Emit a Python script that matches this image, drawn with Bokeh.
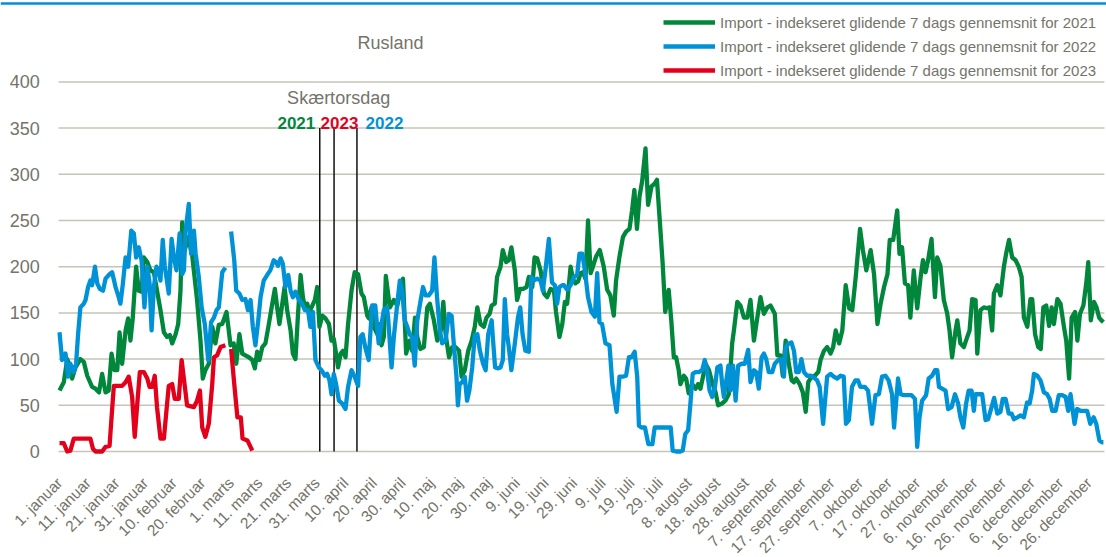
import math
from bokeh.plotting import figure
from bokeh.models import Label, Legend, LegendItem
from bokeh.core.properties import value
from bokeh.embed import file_html
from bokeh.resources import INLINE

NAN = float("nan")

# ---- data (category = day number on a leap-year axis, 1..366) ----
days_2021 = [1.0, 2.5, 3.7, 4.5, 5.4, 6.6, 8.3, 9.5, 10.7, 12.4, 13.6, 14.8, 15.9, 17.1, 18.2, 19.2, 20.2, 21.2, 22.0, 22.9,
             24.1, 25.0, 25.8, 26.6, 27.8, 28.7, 29.7, 30.5, 31.7, 32.8, 34.0, 35.1, 36.3, 37.5, 38.6, 39.6, 40.4, 41.6, 42.5, 43.3,
             43.9, 44.8, 46.0, 47.4, 49.1, 50.3, 51.1, 52.0, 53.2, 54.4, 55.5, 56.7, 57.9, 59.4, 60.8, 61.9, 62.8, 63.9, 64.9, 66.0,
             67.2, 68.4, 69.3, 70.1, 70.9, 71.9, 73.0, 74.2, 75.4, 76.3, 77.1, 77.9, 78.9, 79.7, 80.6, 81.8, 82.6, 83.5, 84.4, 85.3,
             86.1, 87.0, 87.6, 88.4, 89.4, 90.3, 91.1, 91.9, 92.9, 94.0, 95.2, 96.1, 96.9, 97.7, 98.4, 99.3, 100.1, 101.0, 101.9, 103.1,
             104.2, 105.4, 106.6, 107.4, 108.6, 109.2, 110.1, 110.9, 112.1, 112.7, 113.6, 114.4, 115.1, 116.5, 117.9, 119.1, 120.2, 121.1, 122.2, 123.4,
             124.3, 125.3, 126.1, 127.2, 128.4, 129.6, 130.5, 131.9, 133.1, 134.3, 135.2, 136.0, 137.2, 138.3, 139.5, 140.7, 141.6, 142.7, 143.9, 145.1,
             146.2, 147.1, 148.2, 149.4, 150.3, 151.4, 152.1, 153.2, 154.0, 155.2, 156.0, 157.2, 158.1, 159.0, 160.2, 161.0, 162.0, 163.1, 164.3, 165.1,
             166.3, 167.1, 168.0, 169.2, 170.4, 171.5, 172.7, 173.9, 174.6, 175.8, 176.8, 177.7, 178.5, 179.7, 180.5, 181.4, 182.3, 183.2, 184.0, 184.9,
             185.8, 186.7, 187.5, 188.6, 189.9, 191.3, 192.5, 193.6, 194.8, 195.6, 196.8, 198.0, 199.1, 200.3, 201.2, 202.0, 202.9, 203.8, 204.7, 205.9,
             206.8, 208.0, 209.1, 209.9, 211.1, 211.9, 212.8, 214.0, 214.9, 215.8, 216.6, 217.5, 218.1, 219.3, 220.1, 221.0, 222.2, 223.4, 224.3, 225.1,
             226.0, 226.9, 228.1, 229.2, 230.4, 231.3, 232.7, 233.8, 235.0, 236.2, 236.8, 238.0, 239.1, 240.3, 241.5, 242.6, 243.8, 245.0, 246.1, 247.3,
             248.5, 249.6, 251.1, 252.0, 253.1, 253.9, 254.9, 256.0, 257.0, 257.8, 258.6, 259.8, 260.9, 261.9, 262.8, 264.0, 265.1, 266.3, 267.1, 268.3,
             269.4, 270.6, 271.5, 272.4, 273.6, 274.7, 275.9, 277.1, 278.2, 279.4, 280.9, 281.9, 283.1, 284.6, 285.8, 287.0, 288.1, 289.3, 290.5, 291.3,
             292.5, 293.9, 294.7, 295.6, 296.6, 297.7, 298.5, 299.7, 300.9, 302.1, 302.9, 303.8, 304.7, 305.9, 307.1, 307.9, 309.0, 310.2, 311.4, 312.2,
             313.1, 314.3, 314.9, 316.0, 317.2, 318.4, 319.2, 320.1, 321.3, 321.9, 323.0, 324.2, 325.3, 326.2, 327.1, 327.7, 328.9, 330.0, 331.2, 332.1,
             333.0, 334.1, 335.3, 336.4, 337.4, 338.2, 339.4, 340.5, 341.1, 342.1, 343.2, 344.1, 345.0, 346.0, 347.0, 347.9, 348.7, 349.9, 351.0, 352.2,
             353.0, 354.0, 354.9, 356.1, 356.9, 357.8, 359.0, 360.0, 360.7, 361.6, 362.7, 363.6, 364.5, 365.3, 366.0]
vals_2021 = [66, 75, 100, 93, 79, 91, 100, 97, 82, 70, 68, 64, 84, 64, 66, 106, 88, 88, 129, 95,
             131, 144, 120, 144, 200, 174, 173, 210, 205, 196, 194, 174, 153, 129, 124, 126, 117, 127, 138, 174,
             248, 218, 232, 212, 164, 120, 79, 88, 95, 135, 117, 137, 138, 151, 115, 117, 95, 127, 106, 104,
             102, 99, 90, 108, 99, 113, 117, 138, 160, 176, 156, 138, 160, 178, 153, 131, 106, 100, 149, 191,
             167, 153, 160, 151, 158, 164, 178, 135, 147, 144, 138, 120, 122, 106, 91, 106, 109, 102, 138, 174,
             194, 192, 171, 167, 147, 144, 156, 135, 127, 138, 115, 124, 190, 156, 164, 158, 174, 187, 106, 120,
             109, 145, 124, 111, 113, 156, 160, 142, 120, 131, 162, 127, 102, 113, 113, 109, 81, 88, 109, 120,
             135, 156, 138, 135, 145, 149, 158, 160, 189, 200, 218, 205, 207, 221, 196, 164, 176, 176, 178, 189,
             178, 210, 209, 196, 171, 167, 176, 174, 151, 124, 138, 162, 160, 200, 187, 182, 184, 193, 194, 187,
             250, 193, 200, 211, 218, 200, 175, 169, 147, 185, 211, 232, 238, 241, 261, 283, 241, 276, 292, 328,
             267, 287, 290, 294, 240, 203, 151, 175, 142, 102, 102, 88, 73, 82, 79, 63, 73, 68, 73, 68,
             81, 95, 88, 75, 64, 50, 52, 55, 62, 117, 131, 162, 158, 145, 145, 164, 120, 145, 167, 149,
             156, 158, 149, 104, 104, 82, 120, 95, 77, 75, 79, 73, 64, 43, 75, 81, 82, 86, 99, 109,
             113, 106, 113, 131, 117, 131, 180, 155, 153, 189, 241, 218, 196, 218, 192, 138, 160, 178, 192, 229,
             229, 261, 214, 221, 182, 180, 145, 196, 155, 189, 207, 194, 207, 230, 167, 210, 201, 164, 149, 131,
             102, 131, 142, 117, 113, 124, 131, 165, 164, 106, 153, 156, 155, 156, 131, 171, 180, 169, 200, 216,
             229, 210, 207, 200, 189, 145, 135, 165, 165, 127, 113, 111, 156, 158, 136, 156, 138, 165, 160, 135,
             120, 79, 145, 151, 120, 149, 158, 182, 205, 142, 162, 156, 145, 142, 140]

days_2022 = [1.0, 1.9, 3.1, 4.0, 4.8, 6.0, 6.8, 7.5, 8.3, 9.5, 10.1, 11.0, 11.8, 12.4, 13.4, 14.2, 15.1, 16.2, 17.1, 18.2,
             19.4, 20.6, 21.7, 22.3, 23.1, 24.1, 25.0, 26.1, 27.0, 27.8, 28.7, 29.7, 30.7, 31.7, 32.5, 33.2, 34.0, 34.9, 35.7, 36.3,
             37.1, 37.8, 39.2, 40.2, 41.0, 41.9, 43.0, 43.9, 44.5, 45.1, 46.2, 47.0, 48.0, 48.6, 49.7, 50.7, 51.8, 53.0, 54.0, 55.0,
             55.9, 56.7, 57.9, 59.0, 60.0,
             61.0, 62.1, 62.8, 63.9, 64.9, 66.0, 66.9, 67.8, 68.6, 69.5, 70.5, 71.3, 72.4, 73.6, 74.7, 75.9, 76.7, 77.4, 78.3, 79.1,
             80.0, 81.0, 81.8, 82.6, 83.5, 84.7, 85.8, 86.8, 87.9, 88.7, 89.6, 90.5, 91.7, 92.6, 93.8, 94.6, 95.4, 96.1, 96.9, 97.7,
             98.7, 99.8, 101.0, 101.9, 103.1, 104.2, 105.4, 106.2, 107.0, 107.9, 109.1, 110.3, 111.4, 112.6, 113.6, 114.4, 115.5, 115.9, 117.1, 117.9,
             119.1, 120.0, 120.8, 121.7, 122.6, 123.4, 124.3, 125.2, 126.1, 127.3, 128.1, 129.0, 130.1, 131.3, 132.1, 133.0, 134.0, 134.8, 136.0, 137.1,
             138.1, 138.9, 139.8, 140.3, 140.9, 141.8, 142.7, 143.5, 144.3, 145.3, 146.2, 147.1, 148.0, 149.1, 150.0, 150.9, 152.1, 152.6, 153.3, 154.4,
             155.2, 156.0, 156.7, 157.5, 158.1, 159.0, 160.2, 161.3, 162.1, 162.9, 163.9, 165.1, 166.0, 166.8, 168.0, 169.2, 170.0, 170.9, 172.1, 173.2,
             174.2, 175.0, 175.8, 176.8, 177.4, 178.5, 179.7, 180.9, 182.0, 182.8, 183.8, 184.7, 185.8, 187.0, 188.2, 189.0, 189.8, 190.7, 191.9, 193.3,
             194.3, 195.8, 196.8, 198.0, 199.1, 200.1, 201.0, 202.1, 203.0, 203.6, 204.5, 205.7, 206.9, 208.3, 209.1, 210.6, 212.3, 214.7, 215.4, 216.6,
             218.1, 218.9, 219.8, 220.8, 221.6, 222.4, 223.4, 224.5, 225.7, 226.6, 227.4, 228.3, 229.2, 230.2, 231.0, 232.1, 232.7, 233.3, 234.9, 235.6,
             236.5, 237.4, 238.3, 239.5, 240.6, 241.8, 242.6, 243.8, 244.6, 245.5, 246.5, 247.3, 248.1, 249.0, 250.2, 251.1, 252.3, 253.5, 254.3, 254.9,
             256.0, 256.9, 257.8, 258.6, 259.5, 260.4, 261.3, 262.4, 263.6, 264.8, 265.9, 266.8, 268.0, 269.4, 270.6, 271.7, 272.9, 274.1, 275.2, 276.0,
             277.0, 278.1, 279.3, 280.2, 281.0, 282.6, 283.7, 285.1, 286.3, 287.5, 288.6, 289.8, 290.9, 292.1, 292.8, 294.2, 295.1, 296.2, 297.4, 298.9,
             300.1, 300.9, 301.7, 302.6, 304.0, 304.9, 306.1, 307.1, 307.9, 308.5, 309.6, 310.8, 311.7, 312.9, 314.1, 315.2, 316.0, 317.0, 318.0, 318.9,
             319.9, 320.7, 321.3, 322.4, 323.6, 324.8, 325.7, 326.9, 327.8, 328.9, 330.0, 330.8, 331.8, 332.9, 333.9, 334.7, 335.9, 337.0, 338.2, 339.3,
             340.2, 341.1, 341.7, 342.9, 344.0, 345.2, 346.3, 347.2, 348.1, 349.3, 350.4, 351.6, 352.8, 353.7, 354.5, 355.3, 355.9, 356.8, 358.0, 359.1,
             360.3, 361.4, 362.6, 363.5, 364.6, 365.5, 366.0]
vals_2022 = [129, 99, 106, 81, 95, 86, 95, 127, 156, 160, 164, 178, 185, 180, 200, 182, 176, 174, 187, 191,
             194, 178, 167, 160, 180, 210, 200, 239, 236, 210, 221, 207, 156, 200, 182, 131, 178, 200, 196, 185,
             229, 201, 171, 230, 210, 196, 236, 192, 196, 239, 268, 214, 239, 214, 189, 156, 138, 99, 140, 145,
             153, 156, 194, 199, NAN,
             238, 207, 174, 171, 164, 165, 153, 164, 135, 115, 142, 167, 185, 191, 196, 207, 205, 201, 209, 203,
             178, 191, 174, 167, 173, 164, 160, 153, 153, 135, 151, 99, 91, 88, 82, 84, 77, 62, 84, 73,
             55, 52, 46, 70, 88, 81, 71, 124, 127, 113, 99, 158, 158, 117, 138, 153, 156, 145, 91, 124,
             160, 185, 174, 142, 135, 127, 124, 93, 142, 164, 178, 169, 169, 174, 210, 167, 131, 117, 120, 149,
             147, 115, 81, 50, 73, 75, 81, 55, 66, 91, 126, 127, 109, 95, 88, 127, 142, 120, 91, 90,
             91, 99, 165, 127, 113, 88, 117, 145, 156, 127, 109, 108, 189, 185, 187, 185, 174, 196, 230, 183,
             180, 160, 178, 180, 180, 175, 180, 189, 191, 214, 214, 196, 167, 151, 146, 193, 140, 138, 117, 115,
             73, 43, 81, 81, 82, 102, 102, 108, 81, 28, 26, 26, 8, 8, 26, 26, 26, 26, 1, 0,
             0, 1, 19, 23, 52, 84, 86, 86, 88, 99, 88, 66, 59, 70, 91, 93, 73, 59, 93, 66,
             93, 55, 93, 95, 95, 110, 75, 88, 86, 68, 102, 106, 100, 86, 86, 95, 99, 100, 81, 113,
             117, 118, 109, 86, 86, 100, 86, 82, 82, 80, 77, 70, 30, 81, 84, 81, 79, 82, 81, 30,
             34, 70, 77, 77, 70, 70, 66, 30, 61, 62, 81, 82, 77, 62, 26, 79, 62, 61, 61, 61,
             57, 5, 37, 55, 61, 79, 82, 88, 88, 70, 68, 66, 46, 48, 62, 52, 37, 26, 52, 66,
             66, 44, 62, 62, 62, 34, 35, 48, 58, 41, 43, 57, 57, 41, 41, 35, 37, 39, 37, 53,
             52, 66, 84, 82, 77, 64, 62, 57, 44, 44, 61, 61, 59, 44, 62, 44, 30, 46, 44, 44,
             44, 30, 37, 30, 12, 10, 10]

days_2023 = [1.0, 2.5, 3.7, 4.8, 6.0, 7.8, 11.8, 12.7, 13.6, 15.9, 17.1, 18.5, 19.2, 20.0, 22.9, 24.1, 25.2, 26.4, 27.3, 28.2,
             29.1, 30.5, 31.7, 32.5, 33.4, 34.3, 35.1, 36.3, 37.5, 38.3, 39.2, 40.4, 41.3, 42.7, 43.7, 44.8, 45.6, 48.0, 49.1, 50.1,
             50.9, 52.0, 53.2, 54.4, 55.0, 56.1, 57.3, 59.0, 60.0, 61.0, 62.1, 63.2, 64.4, 65.0, 66.7, 67.8, 68.4]
vals_2023 = [9, 9, 0, 1, 14, 14, 14, 3, 0, 0, 5, 6, 37, 71, 71, 75, 81, 59, 16, 52,
             86, 86, 79, 70, 70, 82, 48, 14, 14, 41, 71, 73, 57, 57, 99, 71, 50, 48, 55, 66,
             26, 16, 30, 73, 102, 104, 113, 115, NAN, 111, 73, 37, 37, 14, 12, 5, 1]

tick_days = list(range(1, 362, 10))
tick_labels = ["1. januar", "11. januar", "21. januar", "31. januar", "10. februar", "20. februar",
               "1. marts", "11. marts", "21. marts", "31. marts", "10. april", "20. april", "30. april",
               "10. maj", "20. maj", "30. maj", "9. juni", "19. juni", "29. juni", "9. juli", "19. juli",
               "29. juli", "8. august", "18. august", "28. august", "7. september", "17. september",
               "27. september", "7. oktober", "17. oktober", "27. oktober", "6. november", "16. november",
               "26. november", "6. december", "16. december", "26. december"]
y_ticks = [0, 50, 100, 150, 200, 250, 300, 350, 400]
y_tick_labels = [str(t) for t in y_ticks]

easter_days = [92, 97, 105]          # Skærtorsdag 2021 / 2023 / 2022 on the leap-year axis
easter_top = 350
easter_years = ["2021", "2023", "2022"]

series_names = ["Import - indekseret glidende 7 dags gennemsnit for 2021",
                "Import - indekseret glidende 7 dags gennemsnit for 2022",
                "Import - indekseret glidende 7 dags gennemsnit for 2023"]

GREEN, BLUE, RED = "#00873C", "#0092D6", "#E3001B"
TXT = "#74746A"
GRID = "#C6C4B8"
FONT = "Liberation Sans"

# axis extents (in category / value units)
X_LO, X_HI = -19.63, 367.08      # whole canvas width
Y_LO, Y_HI = -114.7, 488.1       # whole canvas height
PLOT_X0, PLOT_X1 = 0.65, 366.35  # plotting area left / right

p = figure(width=1106, height=557, x_range=(X_LO, X_HI), y_range=(Y_LO, Y_HI),
           output_backend="svg", toolbar_location=None,
           min_border_left=0, min_border_right=0, min_border_top=0, min_border_bottom=0)
p.outline_line_color = None
p.background_fill_color = "white"
p.border_fill_color = "white"
p.grid.visible = False
p.axis.visible = False

# thin blue rule across the top of the chart
p.segment(x0=[X_LO], y0=[484.8], x1=[X_HI], y1=[484.8], line_color="#0091D2", line_width=2.5)

# horizontal gridlines (0 line acts as the category axis)
p.segment(x0=[PLOT_X0] * len(y_ticks), y0=y_ticks, x1=[PLOT_X1] * len(y_ticks), y1=y_ticks,
          line_color=GRID, line_width=1.5)

# value axis labels
p.text(x=[-5.9] * len(y_ticks), y=y_ticks, text=y_tick_labels, text_align="right", text_baseline="middle",
       text_font=value(FONT), text_font_size=value("18px"), text_color=TXT)

# category labels, rotated 45 degrees and ending at their category
p.text(x=tick_days, y=[-31] * len(tick_days), text=tick_labels, angle=math.pi / 4,
       text_align="right", text_baseline="middle",
       text_font=value(FONT), text_font_size=value("15.5px"), text_color=TXT)

# Skærtorsdag markers
p.segment(x0=easter_days, y0=[0] * 3, x1=easter_days, y1=[easter_top] * 3,
          line_color="#111111", line_width=1.5)

r21 = p.line(days_2021, vals_2021, line_color=GREEN, line_width=4.3, line_join="round")
r22 = p.line(days_2022, vals_2022, line_color=BLUE, line_width=4.3, line_join="round")
r23 = p.line(days_2023, vals_2023, line_color=RED, line_width=4.3, line_join="round")

legend = Legend(items=[LegendItem(label=series_names[0], renderers=[r21]),
                       LegendItem(label=series_names[1], renderers=[r22]),
                       LegendItem(label=series_names[2], renderers=[r23])],
                location=(663, 475), orientation="vertical",
                border_line_color=None, background_fill_alpha=0,
                padding=0, margin=0, spacing=0, label_height=24, glyph_height=24,
                glyph_width=52, label_standoff=5,
                label_text_font=FONT, label_text_font_size="15px", label_text_color=TXT)
p.add_layout(legend)

p.add_layout(Label(x=116.7, y=442.6, text="Rusland", text_align="center", text_baseline="middle",
                   text_font=FONT, text_font_size="18px", text_color=TXT))
p.add_layout(Label(x=98.6, y=383, text="Skærtorsdag", text_align="center", text_baseline="alphabetic",
                   text_font=FONT, text_font_size="18px", text_color=TXT))
for xx, yr, col in zip([77.2, 92.3, 108.0], easter_years, [GREEN, RED, BLUE]):
    p.add_layout(Label(x=xx, y=356, text=yr, text_align="left", text_baseline="alphabetic",
                       text_font=FONT, text_font_size="17px", text_font_style="bold", text_color=col))

open("out.html", "w").write(file_html(p, INLINE))
